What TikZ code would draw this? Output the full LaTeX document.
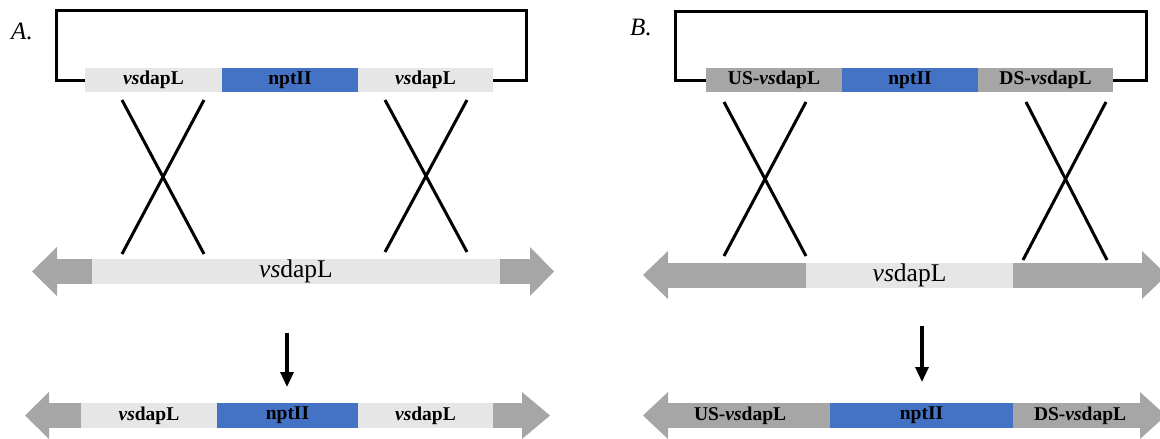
\documentclass[tikz,border=0pt]{standalone}
\usepackage{fontspec}
\setmainfont{Liberation Serif}
\usetikzlibrary{arrows.meta}
\definecolor{lightseg}{HTML}{E6E6E6}
\definecolor{darkseg}{HTML}{A6A6A6}
\definecolor{genblue}{HTML}{4472C4}
\tikzset{
  segment/.style={rectangle, inner sep=0pt, outer sep=0pt, anchor=west,
    font=\fontsize{19.5}{21}\selectfont\bfseries},
  boxlight/.style={segment, fill=lightseg, minimum height=24pt},
  boxdark/.style={segment, fill=darkseg, minimum height=24pt},
  boxblue/.style={segment, fill=genblue, minimum height=24pt},
  barlight/.style={segment, fill=lightseg, minimum height=25pt},
  bardark/.style={segment, fill=darkseg, minimum height=25pt},
  barblue/.style={segment, fill=genblue, minimum height=25pt},
  biglabel/.style={font=\fontsize{25.5}{28}\selectfont\mdseries},
  panel/.style={inner sep=0pt, font=\fontsize{25}{28}\selectfont\itshape},
  bracket/.style={draw=black, line width=3pt, line join=miter},
  crossline/.style={draw=black, line width=3pt},
  down/.style={draw=black, line width=3.2pt, -{Triangle[width=13pt,length=15pt]}},
  headfill/.style={fill=darkseg}
}
\begin{document}
\begin{tikzpicture}[x=1pt,y=-1pt]
\useasboundingbox (0,0) rectangle (1160,439);
\clip (0,0) rectangle (1160,439);

% panel letters
\node[panel] (labA) at (22,31) {A.};
\node[panel] (labB) at (641,27) {B.};

% ---------------- Panel A ----------------
% targeting construct
\node[boxlight, minimum width=137pt] (a1) at (85,80) {\textit{vs}dapL};
\node[boxblue,  minimum width=136pt] (a2) at (a1.east) {nptII};
\node[boxlight, minimum width=135pt] (a3) at (a2.east) {\textit{vs}dapL};
\coordinate (abl) at (56,80);
\coordinate (atl) at (56,10);
\coordinate (atr) at (526,10);
\coordinate (abr) at (526,80);
\draw[bracket] (a1.west) -- (abl) -- (atl) -- (atr) -- (abr) -- (a3.east);

% crossover lines
\coordinate (ca1) at (122,100); \coordinate (ca2) at (204,100);
\coordinate (ca3) at (122,254); \coordinate (ca4) at (204,254);
\coordinate (ca5) at (385,100); \coordinate (ca6) at (467,100);
\coordinate (ca7) at (385,252); \coordinate (ca8) at (467,252);
\draw[crossline] (ca1) -- (ca4);
\draw[crossline] (ca2) -- (ca3);
\draw[crossline] (ca5) -- (ca8);
\draw[crossline] (ca6) -- (ca7);

% chromosomal locus
\node[bardark,  minimum width=35pt]  (ga1) at (57,271.5) {};
\node[barlight, minimum width=408pt] (ga2) at (ga1.east) {};
\node[bardark,  minimum width=30pt]  (ga3) at (ga2.east) {};
\node[biglabel] (ga2t) at (ga2.center) {\textit{vs}dapL};
\fill[headfill] (ga1.west) ++(0,-24.5) -- ++(-25,24.5) -- ++(25,24.5) -- cycle;
\fill[headfill] (ga3.east) ++(0,-24.5) -- ++(24,24.5) -- ++(-24,24.5) -- cycle;

% result arrow
\coordinate (da1) at (287,333);
\coordinate (da2) at (287,387);
\draw[down] (da1) -- (da2);

% recombined locus
\node[bardark,  minimum width=32pt]  (ra1) at (49,415.5) {};
\node[barlight, minimum width=136pt] (ra2) at (ra1.east) {\textit{vs}dapL};
\node[barblue,  minimum width=141pt] (ra3) at (ra2.east) {nptII};
\node[barlight, minimum width=135pt] (ra4) at (ra3.east) {\textit{vs}dapL};
\node[bardark,  minimum width=29pt]  (ra5) at (ra4.east) {};
\fill[headfill] (ra1.west) ++(0,-23.5) -- ++(-24,23.5) -- ++(24,23.5) -- cycle;
\fill[headfill] (ra5.east) ++(0,-23.5) -- ++(28,23.5) -- ++(-28,23.5) -- cycle;

% ---------------- Panel B ----------------
\node[boxdark, minimum width=136pt] (b1) at (706,80) {US-\textit{vs}dapL};
\node[boxblue, minimum width=136pt] (b2) at (b1.east) {nptII};
\node[boxdark, minimum width=135pt] (b3) at (b2.east) {DS-\textit{vs}dapL};
\coordinate (bbl) at (675,80);
\coordinate (btl) at (675,11);
\coordinate (btr) at (1146,11);
\coordinate (bbr) at (1146,80);
\draw[bracket] (b1.west) -- (bbl) -- (btl) -- (btr) -- (bbr) -- (b3.east);

\coordinate (cb1) at (724,102); \coordinate (cb2) at (806,102);
\coordinate (cb3) at (724,256); \coordinate (cb4) at (806,256);
\coordinate (cb5) at (1026,102); \coordinate (cb6) at (1106,102);
\coordinate (cb7) at (1023,260); \coordinate (cb8) at (1107,260);
\draw[crossline] (cb1) -- (cb4);
\draw[crossline] (cb2) -- (cb3);
\draw[crossline] (cb5) -- (cb8);
\draw[crossline] (cb6) -- (cb7);

\node[bardark,  minimum width=138pt] (gb1) at (668,275) {};
\node[barlight, minimum width=207pt] (gb2) at (gb1.east) {};
\node[bardark,  minimum width=129pt] (gb3) at (gb2.east) {};
\node[biglabel] (gb2t) at (gb2.center) {\textit{vs}dapL};
\fill[headfill] (gb1.west) ++(0,-24) -- ++(-25,24) -- ++(25,24) -- cycle;
\fill[headfill] (gb3.east) ++(0,-24) -- ++(25,24) -- ++(-25,24) -- cycle;

\coordinate (db1) at (922,326);
\coordinate (db2) at (922,382);
\draw[down] (db1) -- (db2);

\node[bardark, minimum width=162pt] (rb1) at (668,415.5) {};
\node[barblue, minimum width=183pt] (rb2) at (rb1.east) {nptII};
\node[bardark, minimum width=127pt] (rb3) at (rb2.east) {};
\node[segment] (rb1t) at (694,415.5) {US-\textit{vs}dapL};
\node[segment] (rb3t) at (1034,415.5) {DS-\textit{vs}dapL};
\fill[headfill] (rb1.west) ++(0,-23.5) -- ++(-25,23.5) -- ++(25,23.5) -- cycle;
\fill[headfill] (rb3.east) ++(0,-23.5) -- ++(26,23.5) -- ++(-26,23.5) -- cycle;
\end{tikzpicture}
\end{document}
